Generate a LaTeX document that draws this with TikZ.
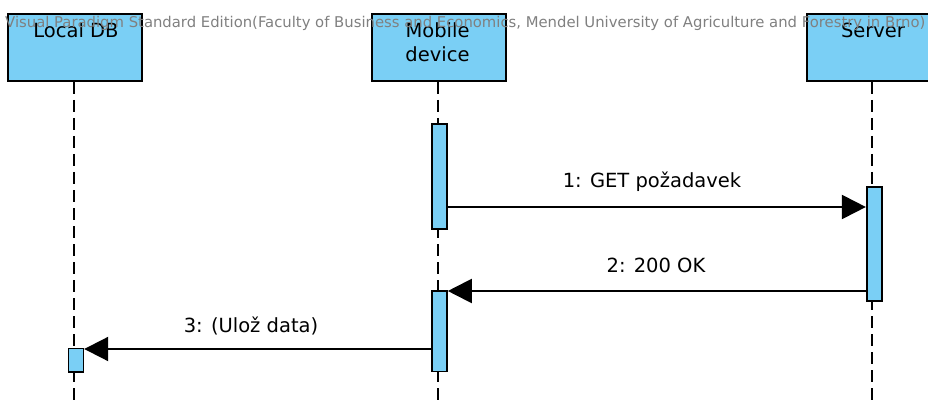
\documentclass[tikz,border=0pt]{standalone}
\usepackage{fontspec}
\setmainfont{DejaVu Sans}
\usetikzlibrary{arrows.meta}
\definecolor{vpblue}{RGB}{122,207,245}
\definecolor{wmgrey}{RGB}{128,128,128}
\tikzset{
  headbox/.style={draw=black, fill=vpblue, line width=2pt, minimum width=134pt, minimum height=67pt, inner sep=0pt},
  headtext/.style={font=\fontsize{19.5}{24}\selectfont, text=black, align=center, inner sep=0pt},
  lifeline/.style={draw=black, line width=2pt, dash pattern=on 12pt off 6pt},
  actbar/.style={draw=black, fill=vpblue, line width=1.6pt, minimum width=15pt, inner sep=0pt},
  msg/.style={draw=black, line width=2pt, -{Triangle[length=24pt, width=24pt]}},
  msglabel/.style={font=\fontsize{19.5}{24}\selectfont, anchor=base, inner sep=0pt},
  watermark/.style={font=\fontsize{15}{18}\selectfont, text=wmgrey, anchor=base west, inner sep=0pt}
}
\begin{document}
\begin{tikzpicture}[x=1pt, y=-1pt]
\useasboundingbox (0,0) rectangle (928,406);
\clip (0,0) rectangle (928,406);
% head boxes
\node[headbox] (db) at (75,47.5) {};
\node[headbox] (mob) at (438.5,47.5) {};
\node[headbox] (srv) at (874,47.5) {};
% lifeline ends
\coordinate (dbend) at (74,406);
\coordinate (mobend) at (437.5,406);
\coordinate (srvend) at (872.3,406);
\draw[lifeline] (db.south -| dbend) -- (dbend);
\draw[lifeline] (mob.south -| mobend) -- (mobend);
\draw[lifeline] (srv.south -| srvend) -- (srvend);
% activation bars
\node[actbar, minimum height=105pt] (mobA) at (439.5,176.5) {};
\node[actbar, minimum height=113.5pt] (srvA) at (874.2,244) {};
\node[actbar, minimum height=80.5pt] (mobB) at (439.5,331.3) {};
\node[actbar, minimum height=23.5pt] (dbA) at (75.9,360.2) {};
% messages
\coordinate (m1) at (0,207);
\coordinate (m2) at (0,291);
\coordinate (m3) at (0,349);
\draw[msg] (mobA.east |- m1) -- (srvA.west |- m1);
\draw[msg] (srvA.west |- m2) -- (mobB.east |- m2);
\draw[msg] (mobB.west |- m3) -- (dbA.east |- m3);
\node[msglabel] (l1) at (652,187) {1: GET požadavek};
\node[msglabel] (l2) at (656,272) {2: 200 OK};
\node[msglabel] (l3) at (251,332) {3: (Ulož data)};
% head texts
\node[headtext] (dbt) at (76,30) {Local DB};
\node[headtext] (mobt) at (437.5,42) {Mobile\\device};
\node[headtext] (srvt) at (873,30) {Server};
% watermark
\node[watermark] (wm) at (5,27.5) {\resizebox{920pt}{!}{Visual Paradigm Standard Edition(Faculty of Business and Economics, Mendel University of Agriculture and Forestry in Brno)}};
\end{tikzpicture}
\end{document}
